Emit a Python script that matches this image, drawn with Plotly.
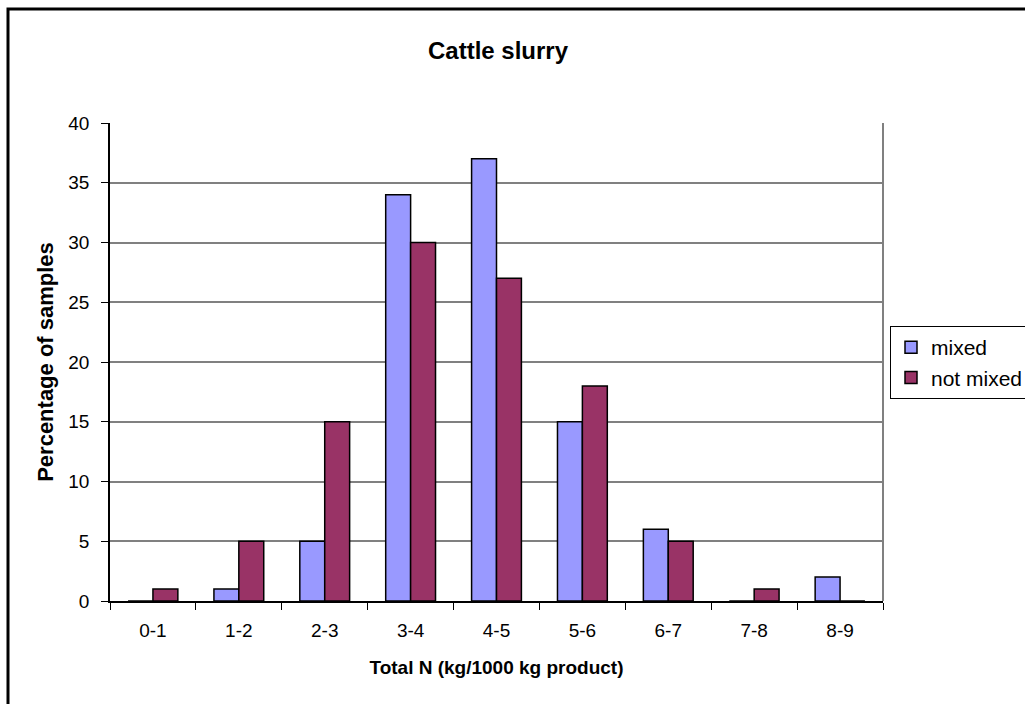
import plotly.graph_objects as go

# Nitrogen content classes (kg N per 1000 kg product)
categories = ["0-1", "1-2", "2-3", "3-4", "4-5", "5-6", "6-7", "7-8", "8-9"]
mixed = [0, 1, 5, 34, 37, 15, 6, 0, 2]
not_mixed = [1, 5, 15, 30, 27, 18, 5, 1, 0]
y_ticks = [0, 5, 10, 15, 20, 25, 30, 35, 40]

W, H = 1025, 704
ML, MR, MT, MB = 110, 142, 123, 103
pw, ph = W - ML - MR, H - MT - MB

FONT = "Liberation Sans, Arial, sans-serif"

fig = go.Figure()
fig.add_trace(go.Bar(
    x=categories, y=mixed, name="mixed",
    marker=dict(color="#9999FF", line=dict(color="#000000", width=1.5)),
))
fig.add_trace(go.Bar(
    x=categories, y=not_mixed, name="not mixed",
    marker=dict(color="#993366", line=dict(color="#000000", width=1.5)),
))


def px_to_paper_x(px):
    return (px - ML) / pw


def px_to_paper_y(py):
    return 1 - (py - MT) / ph


# outer chart frame (right and bottom sides fall outside the page)
fig.add_shape(type="rect", xref="paper", yref="paper",
              x0=px_to_paper_x(8), x1=px_to_paper_x(1100),
              y0=px_to_paper_y(800), y1=px_to_paper_y(9),
              line=dict(color="#000000", width=3), layer="below")
# right edge of the plot area
fig.add_shape(type="line", xref="paper", yref="paper",
              x0=1, x1=1, y0=0, y1=1,
              line=dict(color="#808080", width=2))

fig.update_layout(
    width=W, height=H,
    margin=dict(l=ML, r=MR, t=MT, b=MB, autoexpand=False),
    paper_bgcolor="white", plot_bgcolor="white",
    font=dict(family=FONT, size=19, color="#000000"),
    title=dict(text="<b>Cattle slurry</b>", x=498 / W, xanchor="center",
               y=1 - 51 / H, yanchor="middle",
               font=dict(family=FONT, size=24, color="#000000")),
    barmode="group", bargap=0.42, bargroupgap=0,
    showlegend=True,
    legend=dict(x=px_to_paper_x(890), y=px_to_paper_y(326),
                xanchor="left", yanchor="top",
                bgcolor="white", bordercolor="#000000", borderwidth=1,
                font=dict(family=FONT, size=21, color="#000000"),
                itemwidth=30, tracegroupgap=0),
    xaxis=dict(
        type="category", showline=True, linecolor="#000000", linewidth=1.5,
        ticks="outside", tickson="boundaries", ticklen=7, tickcolor="#000000",
        ticklabelstandoff=11,
        tickfont=dict(family=FONT, size=19), showgrid=False,
        title=dict(text="<b>Total N (kg/1000 kg product)</b>", standoff=21,
                   font=dict(family=FONT, size=19)),
    ),
    yaxis=dict(
        range=[0, 40], tickvals=y_ticks, showline=True, linecolor="#000000",
        linewidth=1.5, ticks="outside", ticklen=7, tickcolor="#000000",
        ticklabelstandoff=8,
        tickfont=dict(family=FONT, size=19),
        showgrid=True, gridcolor="#808080", gridwidth=1.5, zeroline=False,
        title=dict(text="<b>Percentage of samples</b>", standoff=9,
                   font=dict(family=FONT, size=22)),
    ),
)

fig.write_html("out.html")
